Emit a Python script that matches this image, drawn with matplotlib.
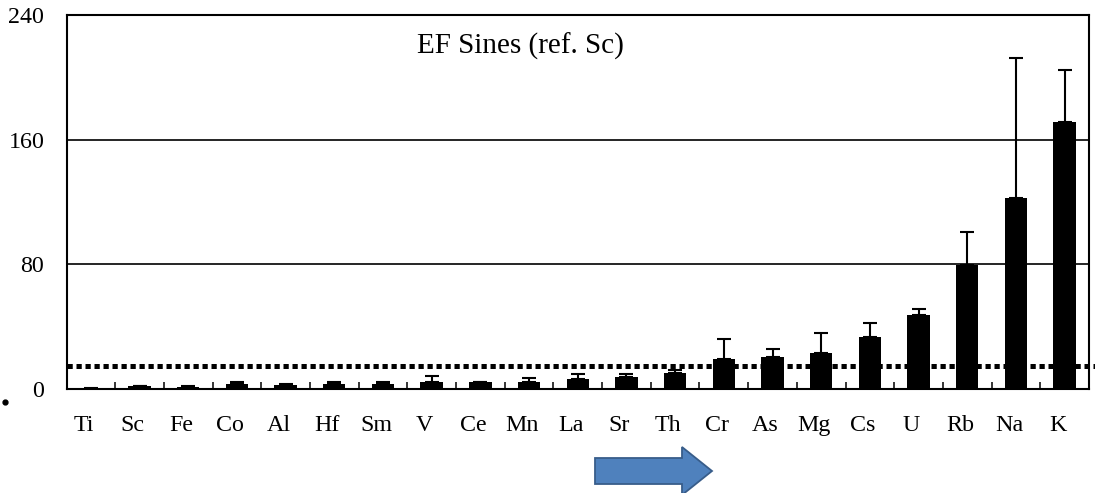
import numpy as np
import matplotlib
matplotlib.use("Agg")
import matplotlib.pyplot as plt
from matplotlib.patches import Polygon
from matplotlib.lines import Line2D
from matplotlib.transforms import ScaledTranslation

plt.rcParams['font.family'] = ['Liberation Serif', 'DejaVu Serif']

# data
elements = ['Ti', 'Sc', 'Fe', 'Co', 'Al', 'Hf', 'Sm', 'V', 'Ce', 'Mn', 'La',
            'Sr', 'Th', 'Cr', 'As', 'Mg', 'Cs', 'U', 'Rb', 'Na', 'K']
ef = [0.3, 1.7, 1.5, 3.2, 2.8, 3.2, 3.2, 4.5, 4.5, 4.8, 6.5,
      7.6, 10.4, 19.2, 20.5, 23.1, 33.5, 47.8, 79.4, 122.8, 171.2]
ef_err = [0.2, 0.2, 0.2, 1.3, 0.3, 1.3, 1.3, 3.6, 0.2, 2.2, 3.2,
          2.1, 2.1, 12.6, 5.0, 13.0, 8.9, 3.7, 21.6, 89.5, 33.6]
threshold = 15
y_ticks = [0, 80, 160, 240]

W, H = 1095, 493
fig = plt.figure(figsize=(W / 100, H / 100), dpi=100)
ax = fig.add_axes([66.5 / W, 1 - 389 / H, (1089 - 66.5) / W, (389 - 15) / H])

x = np.arange(len(elements))
ax.bar(x, ef, width=0.46, color='black', zorder=3)
ax.errorbar(x, ef, yerr=[np.zeros(len(ef)), ef_err], fmt='none', ecolor='black',
            elinewidth=1.5, capsize=5, capthick=1.5, zorder=4)

# dotted threshold line, runs a bit past the right frame
x_end = (W - 66.5) / 48.7 - 0.5
ax.plot([-0.5, x_end], [threshold, threshold], color='black', lw=3.6,
        linestyle=(0, (1.05, 0.75)), dash_capstyle='butt', clip_on=False, zorder=5)

ax.set_xlim(-0.5, len(elements) - 0.5)
ax.set_ylim(0, 240)
ax.set_yticks(y_ticks)
for yy in y_ticks[1:3]:
    ax.axhline(yy, color='black', lw=1.2, zorder=1)

ax.set_xticks(x)
ax.set_xticklabels(elements)
ax.set_xticks(np.arange(0.5, len(elements) - 1, 1), minor=True)
ax.tick_params(axis='x', which='major', length=0, pad=19, labelsize=17.3)
ax.tick_params(axis='x', which='minor', direction='in', length=5, width=1.1)
ax.tick_params(axis='y', length=0, pad=16, labelsize=17.3)
shift = ScaledTranslation(-7 / 100, 0, fig.dpi_scale_trans)
for lab in ax.get_xticklabels():
    lab.set_transform(lab.get_transform() + shift)

for s in ax.spines.values():
    s.set_linewidth(1.5)

ax.text(0.4435, 0.917, 'EF Sines (ref. Sc)', transform=ax.transAxes,
        ha='center', va='center', fontsize=21)

# blue arrow under the axis
px = [(595, 458), (682, 458), (682, 447), (712, 471), (682, 495), (682, 484), (595, 484)]
arrow = Polygon([(a / W, 1 - b / H) for a, b in px], closed=True,
                transform=fig.transFigure, facecolor='#4F81BD',
                edgecolor='#385D8A', lw=1.3)
fig.add_artist(arrow)

# stray dot at lower left
fig.add_artist(Line2D([5 / W], [1 - 402 / H], marker='o', markersize=3.5,
                      color='black', transform=fig.transFigure))

fig.savefig('out.png', dpi=100)
